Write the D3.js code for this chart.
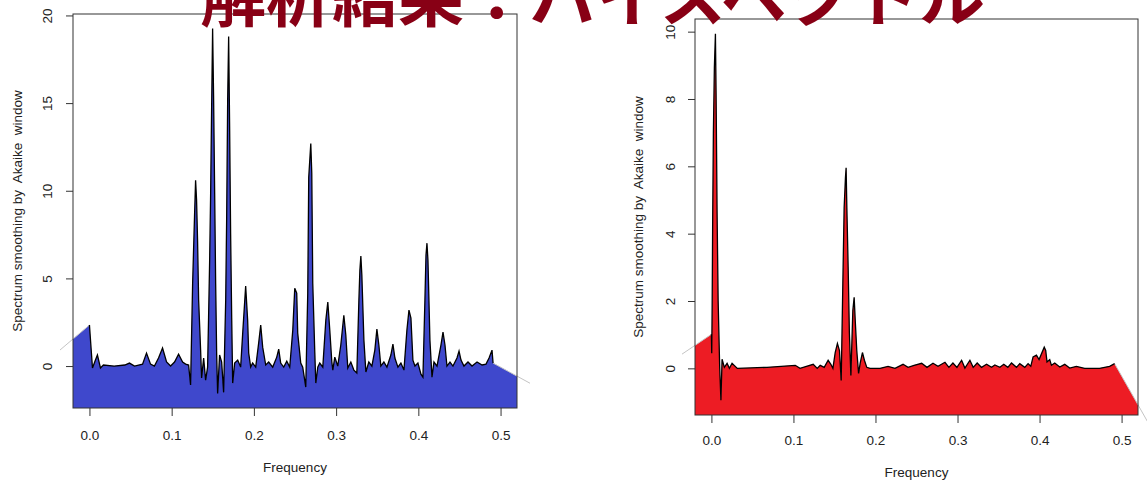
<!DOCTYPE html>
<html lang="ja">
<head>
<meta charset="UTF-8">
<title>解析結果：バイスペクトル</title>
<script src="https://cdnjs.cloudflare.com/ajax/libs/d3/7.8.5/d3.min.js"></script>
<style>
  body { margin: 0; background: #fff; overflow: hidden; }
  svg { display: block; }
  text { font-family: "Liberation Sans", Arial, sans-serif; fill: #222; }
</style>
</head>
<body>
<svg id="chart" width="1147" height="481"></svg>
<script>
// ---- data: [frequency, spectrum] ----
const titleText = "解析結果：バイスペクトル";
const yTitle = "Spectrum smoothing by  Akaike  window";
const xTitle = "Frequency";
const xTickValues = [0, 0.1, 0.2, 0.3, 0.4, 0.5];
const freqRange = [0, 0.5];

const blueTicks = [0, 5, 10, 15, 20];
const blueSpectrum = [
  [0, 2.34], [0.0037, -0.11], [0.0073, 0.34], [0.0097, 0.63], [0.0134, -0.11], [0.017, 0.06],
  [0.030, 0], [0.043, 0.06], [0.0487, 0.17], [0.0548, 0], [0.0646, 0.11], [0.0694, 0.74],
  [0.0743, 0.11], [0.079, 0], [0.084, 0.46], [0.0889, 1.03], [0.0938, 0.23], [0.0987, 0],
  [0.1035, 0.23], [0.1084, 0.68], [0.1133, 0.23], [0.117, 0.11], [0.1206, 0.06], [0.123, -1.08],
  [0.1255, 4.73], [0.1279, 8.72], [0.1291, 10.6], [0.1303, 9.46], [0.1315, 7.18], [0.1328, 3.76],
  [0.1352, 0.91], [0.1364, -0.68], [0.1389, 0.46], [0.1413, -0.8], [0.1437, -0.06], [0.1449, 2.79],
  [0.1462, 6.04], [0.1474, 9.86], [0.1486, 14.76], [0.1498, 19.25], [0.151, 15.33], [0.1523, 9.86],
  [0.1535, 4.73], [0.1547, 0.74], [0.1559, -1.56], [0.1583, 0.63], [0.1608, 0.23], [0.1632, -1.5],
  [0.1657, 3.76], [0.1669, 8.49], [0.1681, 15.16], [0.1693, 18.8], [0.1705, 13.62], [0.1717, 7.58],
  [0.173, 2.79], [0.1742, -0.97], [0.1766, 0.17], [0.1803, 0.34], [0.1839, -0.06], [0.1864, 1.88],
  [0.19, 4.56], [0.1924, 2.62], [0.1937, 0.74], [0.1961, -0.06], [0.1985, 0.17], [0.2022, -0.06],
  [0.2058, 1.31], [0.2083, 2.34], [0.2107, 1.08], [0.2144, 0.06], [0.218, 0.23], [0.2229, -0.06],
  [0.2278, 0.51], [0.2302, 0.97], [0.2326, 0.17], [0.2363, -0.06], [0.24, 0.28], [0.2436, -0.06],
  [0.2473, 2.05], [0.2497, 4.44], [0.2521, 4.16], [0.2533, 1.88], [0.257, 0.17], [0.2594, -0.06],
  [0.2631, -1.2], [0.2655, 4.16], [0.2667, 10.77], [0.2692, 12.7], [0.2704, 11.0], [0.2716, 4.73],
  [0.2741, 0.74], [0.2753, -0.97], [0.2777, -0.06], [0.2801, 0.17], [0.2838, -0.06], [0.2875, 2.62],
  [0.2899, 3.65], [0.2923, 2.05], [0.2948, 0.23], [0.296, -0.23], [0.2984, 0.51], [0.302, 0],
  [0.3057, 1.2], [0.3094, 2.9], [0.3118, 1.77], [0.3142, -0.11], [0.3179, 0.23], [0.3216, -0.23],
  [0.3252, -0.4], [0.3277, 3.76], [0.3289, 5.47], [0.3301, 6.27], [0.3313, 5.19], [0.3338, 1.48],
  [0.3362, -0.34], [0.3398, 0.23], [0.3435, 0], [0.3471, 0.91], [0.3496, 2.11], [0.352, 1.2],
  [0.3544, 0], [0.3581, 0.23], [0.3618, -0.06], [0.3666, 0.63], [0.3691, 1.25], [0.3715, 0.46],
  [0.3752, -0.06], [0.3788, 0.17], [0.3825, -0.23], [0.3861, 2.05], [0.3886, 3.19], [0.391, 2.74],
  [0.3934, 0.34], [0.3959, 0], [0.3995, 0.17], [0.4032, -0.46], [0.4056, -0.63], [0.408, 3.76],
  [0.4093, 6.32], [0.4105, 7.01], [0.4117, 6.04], [0.4141, 1.48], [0.4166, -0.63], [0.419, 0.23],
  [0.4227, 0], [0.4275, 1.2], [0.43, 1.94], [0.4324, 1.2], [0.4348, 0], [0.4385, 0.23],
  [0.4421, 0], [0.447, 0.46], [0.4495, 0.85], [0.4519, 0.34], [0.4555, 0], [0.4604, 0.23],
  [0.4653, 0], [0.4714, 0.23], [0.4775, 0.06], [0.4823, 0.11], [0.486, 0.46], [0.4896, 0.91],
  [0.4909, 0.17]
];
// outer corners of the filled polygon (fall outside the plot box)
const blueCorners = [[-0.05, 0.35], [0.56, -1.6]];

const redTicks = [0, 2, 4, 6, 8, 10];
const redSpectrum = [
  [0, 1.01], [0.0004, 0.45], [0.0009, 1.81], [0.0016, 4.6], [0.0024, 6.97], [0.0036, 8.93],
  [0.0049, 9.94], [0.0057, 8.16], [0.0069, 4.69], [0.0082, 2.02], [0.0101, 0.03], [0.0116, -0.95],
  [0.013, 0.27], [0.0158, 0.03], [0.0191, 0.15], [0.0219, 0], [0.0252, 0.15], [0.0316, 0],
  [0.0678, 0.03], [0.1022, 0.09], [0.108, 0], [0.1241, 0.12], [0.129, 0], [0.1326, 0.09],
  [0.1375, 0.03], [0.1423, 0.24], [0.1456, 0.12], [0.1481, 0], [0.1509, 0.47], [0.1536, 0.74],
  [0.1561, 0.53], [0.1582, -0.36], [0.1602, 2.52], [0.1618, 4.78], [0.1634, 5.67], [0.1642, 5.96],
  [0.1651, 4.78], [0.1667, 3.0], [0.1682, 1.04], [0.17, -0.21], [0.1724, 1.72], [0.174, 2.11],
  [0.1755, 1.34], [0.1772, 0.53], [0.1794, -0.15], [0.1813, 0.15], [0.1841, 0.47], [0.1865, 0.24],
  [0.1894, 0.03], [0.1934, 0], [0.2056, 0], [0.2153, 0.06], [0.2238, 0], [0.2336, 0.12],
  [0.2397, 0.03], [0.247, 0.09], [0.2563, 0.15], [0.2628, 0.03], [0.2701, 0.15], [0.2762, 0.06],
  [0.2847, 0.18], [0.2895, 0.03], [0.2944, 0.16], [0.2993, 0.03], [0.305, 0.24], [0.309, 0.01],
  [0.3151, 0.24], [0.3191, 0.03], [0.324, 0.16], [0.3293, 0.03], [0.3354, 0.12], [0.3415, 0.03],
  [0.3455, 0.1], [0.3516, 0.03], [0.3564, 0.12], [0.3613, 0.03], [0.3658, 0.16], [0.3719, 0.03],
  [0.3759, 0.14], [0.382, 0.03], [0.386, 0.14], [0.3893, 0.06], [0.3921, 0.34], [0.3962, 0.39],
  [0.3994, 0.26], [0.4057, 0.63], [0.4075, 0.53], [0.4091, 0.19], [0.4124, 0.26], [0.4145, 0.09],
  [0.4185, 0.16], [0.4246, 0.04], [0.4307, 0.12], [0.4367, 0.01], [0.4449, 0.06], [0.455, 0],
  [0.4732, 0], [0.4854, 0.06], [0.4915, 0.14]
];
const redCorners = [[-0.05, 0.19], [0.546, -2.2]];

// ---- layout ----
const svg = d3.select("#chart");

const panels = [
  { id: "blue", data: blueSpectrum, corners: blueCorners, ticks: blueTicks, fill: "#3f48cc",
    box: { x0: 73, x1: 517, y0: 14, y1: 408 },
    yLabelX: 52, yTitleX: 22, xLabelY: 440, xTitleY: 472 },
  { id: "red", data: redSpectrum, corners: redCorners, ticks: redTicks, fill: "#ed1c24",
    box: { x0: 695, x1: 1138, y0: 19, y1: 415 },
    yLabelX: 675, yTitleX: 643, xLabelY: 445, xTitleY: 477 }
];

// R-style 4% padding of the axis range
function pad(ext) {
  const d = (ext[1] - ext[0]) * 0.04;
  return [ext[0] - d, ext[1] + d];
}

panels.forEach(p => {
  const b = p.box;
  const x = d3.scaleLinear().domain(pad(freqRange)).range([b.x0, b.x1]);
  const y = d3.scaleLinear().domain(pad(d3.extent(p.data, d => d[1]))).range([b.y1, b.y0]);

  const defs = svg.append("defs");
  defs.append("clipPath").attr("id", "clip-" + p.id)
    .append("rect").attr("x", b.x0).attr("y", b.y0)
    .attr("width", b.x1 - b.x0).attr("height", b.y1 - b.y0);
  defs.append("clipPath").attr("id", "clipwide-" + p.id)
    .append("rect").attr("x", b.x0 - 13).attr("y", 0)
    .attr("width", b.x1 - b.x0 + 26).attr("height", 481);

  const line = d3.line().x(d => x(d[0])).y(d => y(d[1]));
  const low = y.domain()[0] - 50;
  const poly = [p.corners[0], ...p.data, p.corners[1],
                [p.corners[1][0], low], [p.corners[0][0], low]];

  // filled area under the spectrum
  svg.append("path")
    .attr("d", line(poly) + "Z")
    .attr("fill", p.fill)
    .attr("clip-path", `url(#clip-${p.id})`);

  // faint polygon edges running outside the box
  const last = p.data[p.data.length - 1];
  svg.append("g").attr("clip-path", `url(#clipwide-${p.id})`)
    .selectAll("path")
    .data([[p.corners[0], p.data[0]], [last, p.corners[1]]])
    .join("path")
    .attr("d", line)
    .attr("fill", "none")
    .attr("stroke", "#c4c4c4")
    .attr("stroke-width", 1);

  // spectrum line
  svg.append("path")
    .attr("d", line(p.data))
    .attr("fill", "none")
    .attr("stroke", "#000")
    .attr("stroke-width", 1.3)
    .attr("stroke-linejoin", "miter")
    .attr("clip-path", `url(#clip-${p.id})`);

  // plot box
  svg.append("rect")
    .attr("x", b.x0).attr("y", b.y0)
    .attr("width", b.x1 - b.x0).attr("height", b.y1 - b.y0)
    .attr("fill", "none").attr("stroke", "#333").attr("stroke-width", 1);

  // x axis
  const gx = svg.append("g")
    .attr("transform", `translate(0,${b.y1})`)
    .call(d3.axisBottom(x).tickValues(xTickValues).tickSize(8).tickFormat(d3.format(".1f")));
  gx.select(".domain").remove();
  gx.selectAll(".tick line").attr("stroke", "#333");
  gx.selectAll(".tick text")
    .attr("y", p.xLabelY - b.y1).attr("dy", null)
    .attr("font-size", "13.5px").attr("font-family", "Liberation Sans, Arial, sans-serif")
    .attr("fill", "#222");

  // y axis
  const gy = svg.append("g")
    .attr("transform", `translate(${b.x0},0)`)
    .call(d3.axisLeft(y).tickValues(p.ticks).tickSize(7).tickFormat(d3.format("d")));
  gy.select(".domain").remove();
  gy.selectAll(".tick line").attr("stroke", "#333");
  gy.selectAll(".tick text")
    .attr("x", null).attr("dy", null)
    .attr("text-anchor", "middle")
    .attr("transform", `translate(${p.yLabelX - b.x0},0) rotate(-90)`)
    .attr("font-size", "13.5px").attr("font-family", "Liberation Sans, Arial, sans-serif")
    .attr("fill", "#222");

  // axis titles
  svg.append("text")
    .attr("x", (b.x0 + b.x1) / 2).attr("y", p.xTitleY)
    .attr("text-anchor", "middle").attr("font-size", "13.5px")
    .text(xTitle);
  svg.append("text")
    .attr("transform", `translate(${p.yTitleX},${(b.y0 + b.y1) / 2}) rotate(-90)`)
    .attr("text-anchor", "middle").attr("font-size", "13.5px")
    .style("white-space", "pre")
    .text(yTitle);
});

// big slide title on top
svg.append("text")
  .attr("x", 200).attr("y", 21)
  .attr("textLength", 785).attr("lengthAdjust", "spacing")
  .style("font-family", "'Noto Sans CJK JP', 'Noto Sans CJK SC', sans-serif")
  .style("font-weight", "bold")
  .style("font-size", "66px")
  .style("fill", "#880015")
  .text(titleText);
</script>
</body>
</html>
